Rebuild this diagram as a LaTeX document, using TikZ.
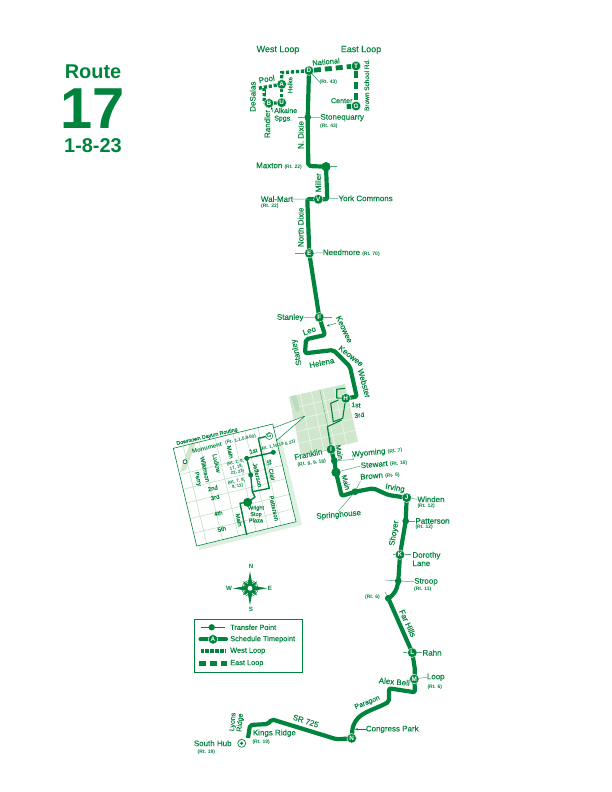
\documentclass[tikz,border=0pt]{standalone}
\usepackage{fontspec}
\setmainfont[FakeBold=0.3,BoldFont={Liberation Sans Bold},BoldFeatures={FakeBold=0}]{Liberation Sans}
\usetikzlibrary{calc,arrows.meta}
\definecolor{rgreen}{RGB}{0,132,61}
\definecolor{rlight}{RGB}{208,230,205}
\definecolor{rgrid}{RGB}{186,220,192}
\definecolor{rshadow}{RGB}{222,240,226}
\newcommand{\fsz}[1]{\fontsize{#1}{#1}\selectfont}
\tikzset{
 lab/.style={text=rgreen,inner sep=0pt,align=left,font=\fontsize{8}{8.4}\selectfont},
 rtl/.style={text=rgreen,inner sep=0pt,align=left,font=\bfseries\fontsize{5}{5.8}\selectfont},
 minilab/.style={text=rgreen,inner sep=0pt,align=center,font=\fontsize{6}{6.4}\selectfont},
 ttl/.style={text=rgreen,inner sep=0pt,font=\bfseries\fontsize{20}{20}\selectfont},
 routeline/.style={draw=rgreen,line width=4.2pt,line join=round,rounded corners=2pt},
 thinroute/.style={draw=rgreen,line width=1.1pt,line join=round},
 insetroute/.style={draw=rgreen,line width=1.4pt,line join=round},
 westloop/.style={draw=rgreen,line width=3.4pt,dash pattern=on 3.2pt off 1.8pt},
 eastloop/.style={draw=rgreen,line width=4.8pt,dash pattern=on 7pt off 4pt},
 tick/.style={draw=rgreen!70!white,line width=.5pt},
 leader/.style={draw=rgreen,line width=.45pt},
 pointer/.style={draw=rgreen,line width=.45pt,-{Stealth[length=3pt,width=2.4pt]}},
 tm/.style={circle,fill=rgreen,draw=white,line width=.4pt,text=white,inner sep=0pt,minimum size=9.6pt,font=\bfseries\fontsize{6.4}{6.4}\selectfont},
 tp/.style={circle,fill=rgreen,inner sep=0pt,minimum size=6.4pt},
 tpbig/.style={circle,fill=rgreen,inner sep=0pt,minimum size=9pt},
 gridln/.style={draw=rgrid,line width=.5pt},
}
\begin{document}
\begin{tikzpicture}[x=1bp,y=-1bp]
\fill[white] (0,0) rectangle (612,792);
\useasboundingbox (0,0) rectangle (612,792);

% Title
\node[ttl] (t1) at (93,72) {Route};
\node[ttl,font=\bfseries\fontsize{58}{58}\selectfont] (t2) at (93,109) {17};
\node[ttl] (t3) at (93,146) {1-8-23};

% Upper shaded map
\coordinate (UTL) at (289,396.7);\coordinate (UTR) at (345,384);
\coordinate (UBL) at (301,455);\coordinate (UBR) at (358,441.7);
\fill[rlight] (UTL)--(UTR)--(UBR)--(UBL)--cycle;
\foreach \f in {.2,.4,.6,.8}{
 \draw[white!75!rgrid,line width=.6pt] ($(UTL)!\f!(UBL)$)--($(UTR)!\f!(UBR)$);
 \draw[white!75!rgrid,line width=.6pt] ($(UTL)!\f!(UTR)$)--($(UBL)!\f!(UBR)$);}
\draw[rgrid!60!rgreen,line width=.5pt] ($(UTL)!.55!(UTR)$)--($(UBL)!.55!(UBR)$);
\fill[rgrid] (291,396.3)--(296,395.2)--(300,410)--(296,412)--cycle;

% Downtown inset
\coordinate (TL) at (173.3,448.3);\coordinate (TR) at (272.7,424);
\coordinate (BL) at (196.7,546);\coordinate (BR) at (296,521.7);
\fill[rshadow] ($(TL)+(2,2)$)--($(TR)+(5,0)$)--($(BR)+(6,3)$)--($(BL)+(3,4)$)--cycle;
\fill[white] (TL)--(TR)--(BR)--(BL)--cycle;
\fill[rlight] (190,443.5)--(196,442)--(186,470)--(180,472)--cycle;
\foreach \f in {.27,.42,.56,.72,.87}{\draw[gridln] ($(TL)!\f!(BL)$)--($(TR)!\f!(BR)$);}
\foreach \f in {.1,.26,.42,.6,.72,.85}{\draw[gridln] ($(TL)!\f!(TR)$)--($(BL)!\f!(BR)$);}
\fill[white] (268,428)--(305,416)--(275,441)--cycle;
\draw[draw=rgreen,line width=.6pt] (TR)--(TL)--(BL)--(BR)--(TR);
\draw[draw=rgreen,line width=.5pt,line join=round] (273.5,428)--(305,416)--(276,441);

% Inset route
\coordinate (ia) at (258.3,438.3);\coordinate (ib) at (269.3,488.3);\coordinate (ic) at (252.3,491.7);
\coordinate (ie) at (255,497);\coordinate (ig) at (240,503.3);\coordinate (ih) at (246.7,535);
\node[tp,minimum size=5pt] (ifirst) at (246.7,458.3) {};
\node[tp,minimum size=5pt] (isecond) at (273.3,452.3) {};
\node[tp,minimum size=5pt] (ithird) at (250.7,475) {};
\node[tpbig] (iplaza) at (247.7,502.3) {};
\draw[insetroute] (ia)--(ib)--(ic)--(ithird.center)--(ifirst.center)--(isecond.center);
\draw[insetroute] (ic)--(ie)--(iplaza.center)--(ig)--(ih);
\draw[insetroute] (ia)--(268,436);
\node[circle,draw=rgreen,fill=white,line width=.5pt,inner sep=0pt,minimum size=7pt,text=rgreen,font=\bfseries\fontsize{5.5}{5.5}\selectfont] (ig2) at (269.3,436) {G};
\node[circle,draw=rgreen,fill=white,line width=.8pt,inner sep=0pt,minimum size=4pt] (iring) at (185,461.7) {};

% Inset labels
\node[minilab,rotate=13,font=\fontsize{5.3}{5.3}\selectfont] (l1) at (207,436.7) {Downtown Dayton Routing};
\node[minilab,rotate=13,font=\bfseries\fontsize{6}{6}\selectfont] (l2) at (207,447.8) {Monument};
\node[rtl,rotate=13,font=\bfseries\fontsize{4.6}{4.6}\selectfont] (l3) at (240.7,439.5) {(Rt. 1,1,5,9,60)};
\node[minilab,rotate=-77] (l4) at (205,469.3) {Wilkinson};
\node[minilab,rotate=-77] (l5) at (197.7,479) {Perry};
\node[minilab,rotate=-77] (l6) at (216.7,463.3) {Ludlow};
\node[minilab,rotate=-77] (l7) at (230.2,452) {Main};
\node[rtl,rotate=13,align=center,font=\bfseries\fontsize{4.4}{4.8}\selectfont] (l8) at (236.5,467.5) {(Rt. 2, 8,\\ 17, 18,\\ 22, 23)};
\node[minilab,rotate=13] (l9) at (253.3,451) {1st};
\node[rtl,rotate=13,font=\bfseries\fontsize{4.4}{4.4}\selectfont] (l10) at (278,445.5) {(Rt. 1,16,19 \& 23)};
\node[minilab,rotate=-77] (l11) at (271,470) {St. Clair};
\node[minilab,rotate=-77] (l12) at (257.5,475) {Jefferson};
\node[minilab,rotate=13] (l13) at (212.7,488.3) {2nd};
\node[rtl,rotate=13,align=center,font=\bfseries\fontsize{4.4}{4.8}\selectfont] (l14) at (237,484) {(Rt. 7, 8,\\ 9, 13)};
\node[minilab,rotate=13] (l15) at (215,497.3) {3rd};
\node[minilab,rotate=13] (l16) at (218.3,513.3) {4th};
\node[minilab,rotate=13] (l17) at (221.7,529) {5th};
\node[minilab,rotate=-77] (l18) at (239,520) {Main};
\node[minilab,font=\fontsize{5.6}{6.4}\selectfont] (l19) at (256,514) {Wright\\Stop\\Plaza};
\node[minilab,rotate=-77] (l20) at (274,508.3) {Patterson};

% Stops
\node[tm] (d) at (309,70.7) {D};
\node[tm] (tt) at (356,66) {T};
\node[tm] (gg) at (356,106) {G};
\node[tm] (aa) at (281.7,84.3) {A};
\node[tm] (uu) at (281.7,102.7) {U};
\node[tm] (bb) at (269,103.3) {B};
\node[tp] (sq) at (307.7,117.3) {};
\node[tpbig] (mx) at (326,166.7) {};
\node[tm] (vv) at (318.3,199.3) {V};
\node[tm] (ee) at (309.3,253.3) {E};
\node[tm] (ff) at (319.3,317.3) {F};
\node[tm] (hh) at (345.7,398.3) {H};
\node[tm] (ii) at (331,449.3) {I};
\node[tp] (ss1) at (334.3,460.7) {};
\node[tpbig] (ss2) at (336,472.3) {};
\node[tp] (spr) at (355,491.7) {};
\node[tm] (jj) at (406.7,497.7) {J};
\node[tp] (pat) at (405.7,521) {};
\node[tm] (kk) at (400,554.7) {K};
\node[tp] (stp) at (398.3,581) {};
\node[tp] (fh) at (388.3,598.3) {};
\node[tm] (ll) at (412.3,652.7) {L};
\node[tm] (mm) at (414.3,679) {M};
\node[tm] (nn) at (351.7,738.3) {N};
\coordinate (kr) at (248,738);
\node[circle,draw=rgreen,fill=white,line width=.7pt,inner sep=0pt,minimum size=8pt] (sh) at (241.7,743.3) {};
\node[circle,fill=rgreen,inner sep=0pt,minimum size=3.4pt] (shc) at (241.7,743.3) {};

% Loops
\coordinate (wl1) at (281.7,72.7);\coordinate (wl2) at (258.3,88.3);\coordinate (wl3) at (264,88);\coordinate (wl4) at (264.5,103);
\draw[westloop] (d)--(wl1)--(aa);
\draw[westloop] (aa)--(uu);
\draw[westloop] (aa)--(wl2);
\draw[westloop] (wl3)--(wl4)--(bb);
\draw[westloop] (bb)--(uu);
\coordinate (el1) at (346.7,106.7);
\draw[eastloop] (d)--(tt);
\draw[eastloop] (tt)--(gg);
\draw[eastloop] (gg)--(el1);

% Main route
\path[routeline] (d.center)--(sq.center)--(308.3,166)--(mx.center)--(327.3,199.3)--(vv.center)--(307.3,199)--(ee.center)--(ff.center)--(325,335)--(306,339.3)--(305,353.3)--(333.3,350)--(350,366.7)--(356.7,396.7)--(hh.center);
\path[routeline] (ii.center)--(ss1.center)--(ss2.center)--(341.7,496)--(spr.center)--(373.3,488.3)--(388.3,495)--(jj.center)--(pat.center)--(kk.center)--(stp.center);
\path[routeline] (stp.center)..controls (397,590) and (394,595) ..(fh.center);
\path[routeline] (fh.center)--(ll.center)--(415,670)--(mm.center)--(415,692.3)--(389,688.3)--(389,701.7)..controls (372,711) and (358,712)..(352.5,728)--(nn.center)--(336.7,739.3)--(271.7,719.3)--(268,724)--(250,725)--(kr);
\draw[thinroute] (hh.center)--(336.7,398)--(336.7,389.3)--(345,388.3);
\draw[thinroute] (hh.center)--(342.7,418.3)--(333.3,421.7)--(330.7,403.3)--(338.3,400);
\draw[thinroute] (341.7,420)--(327.3,426.7)--(ii.center);

% Redraw stops over the route
\foreach \n/\txt in {d/D,tt/T,gg/G,aa/A,uu/U,bb/B,vv/V,ee/E,ff/F,hh/H,ii/I,jj/J,kk/K,ll/L,mm/M,nn/N}{
 \node[tm] at (\n.center) {\txt};}
\foreach \n in {sq,ss1,spr,pat,stp,fh}{\node[tp] at (\n.center) {};}
\foreach \n in {mx,ss2}{\node[tpbig] at (\n.center) {};}

% Top labels
\node[lab,font=\fontsize{9}{9}\selectfont] (a1) at (278,50) {West Loop};
\node[lab,font=\fontsize{9}{9}\selectfont] (a2) at (361,50) {East Loop};
\node[lab,rotate=5,font=\fontsize{7.5}{7.5}\selectfont] (a3) at (326,61.7) {National};
\node[rtl,anchor=west] (a4) at (319.5,82) {(Rt. 43)};
\draw[leader] (a4.west)--(d);
\node[lab,rotate=10] (a5) at (266.7,79) {Pool};
\node[lab,rotate=90] (a6) at (252.7,96.7) {DeSalas};
\node[lab,rotate=90] (a7) at (267.3,124) {Randler};
\node[lab,rotate=90,font=\fontsize{6.5}{6.5}\selectfont] (a8) at (290,85) {Helke};
\node[lab,font=\fontsize{7}{7.6}\selectfont] (a9) at (285.7,115) {Alkaine\\Spgs.};
\node[lab,rotate=90] (a10) at (300.7,135) {N. Dixie};
\node[lab,anchor=west] (a11) at (320.3,117.7) {Stonequarry};
\node[rtl,anchor=west] (a12) at (320,126.7) {(Rt. 43)};
\node[lab,font=\fontsize{7.2}{7.2}\selectfont] (a13) at (341.7,100.7) {Center};
\node[lab,rotate=90,font=\fontsize{6.5}{6.5}\selectfont] (a14) at (366.7,85) {Brown School Rd.};
\draw[tick] (a11.west)--(sq);
\coordinate (sqw) at (298,117.3);\draw[tick] (sqw)--(sq);
\coordinate (pa1) at (273,112);\coordinate (pa2) at (271,107);
\coordinate (pa3) at (265,90);\coordinate (pa4) at (265,97);
\draw[pointer] (pa1)--(pa2);
\draw[pointer] (pa3)--(pa4);

% Upper route labels
\node[lab,anchor=west] (b1) at (256,166) {Maxton \textbf{\fsz{5}(Rt. 22)}};
\coordinate (mxe) at (337,166.7);\draw[tick] (mx)--(mxe);
\node[lab,rotate=90] (b2) at (318.3,182.7) {Miller};
\node[lab,anchor=west] (b3) at (338.3,198.3) {York Commons};
\node[lab,anchor=west] (b4) at (260.7,199) {Wal-Mart};
\node[rtl,anchor=west] (b5) at (261,206.7) {(Rt. 22)};
\node[lab,rotate=90] (b6) at (300.7,227.3) {North Dixie};
\node[lab,anchor=west] (b7) at (322.7,252.7) {Needmore \textbf{\fsz{5}(Rt. 70)}};
\draw[tick] (b3.west)--(vv);\draw[tick] (b4.east)--(vv);
\draw[tick] (b7.west)--(ee);
\coordinate (eew) at (295,253.3);\draw[tick] (eew)--(ee);
\node[lab,anchor=west] (b8) at (276.7,317.7) {Stanley};
\draw[tick] (b8.east)--(ff);
\coordinate (ffe) at (332,317.3);\draw[tick] (ff)--(ffe);
\node[lab,rotate=-65] (b9) at (344.3,329.3) {Keowee};
\coordinate (kwa) at (336,323.3);\coordinate (kwb) at (326.7,326);\draw[pointer] (kwa)--(kwb);
\node[lab,rotate=20] (b10) at (309.3,330.7) {Leo};
\node[lab,rotate=103] (b11) at (296.7,352.3) {Stanley};
\node[lab,rotate=12] (b12) at (321.7,362.7) {Helena};
\node[lab,rotate=-38] (b13) at (351,356) {Keowee};
\node[lab,rotate=-75] (b14) at (364.3,383.3) {Webster};
\node[lab,rotate=-5,font=\fontsize{6.8}{6.8}\selectfont] (b15) at (356,405) {1st};
\node[lab,rotate=8,font=\fontsize{6.8}{6.8}\selectfont] (b16) at (359.3,415) {3rd};

% Middle labels
\node[lab,rotate=12] (c1) at (308.3,454.3) {Franklin};
\node[rtl,rotate=8] (c2) at (311.7,463.3) {(Rt. 8, 9, 18)};
\node[lab,rotate=-80,font=\fontsize{7}{7}\selectfont] (c3) at (339.5,452.3) {Main};
\node[lab,rotate=6] (c4) at (377.3,452.3) {Wyoming \textbf{\fsz{5}(Rt. 7)}};
\node[lab,rotate=5] (c5) at (384,464) {Stewart \textbf{\fsz{5}(Rt. 16)}};
\node[lab,rotate=5] (c6) at (380,475.7) {Brown \textbf{\fsz{5}(Rt. 6)}};
\node[lab,rotate=-75,font=\fontsize{7}{7}\selectfont] (c7) at (346,482.3) {Main};
\node[lab,rotate=-10] (c8) at (395,488.3) {Irving};
\node[lab,rotate=5] (c9) at (338.7,515) {Springhouse};
\node[lab,anchor=west] (c10) at (417.3,499.3) {Winden};
\node[rtl,anchor=west] (c11) at (417.3,506.7) {(Rt. 12)};
\node[lab,anchor=west] (c12) at (415.3,521) {Patterson};
\node[rtl,anchor=west] (c13) at (415.3,527.3) {(Rt. 12)};
\draw[tick] (c1.east)--(ii);
\coordinate (wy) at (353.5,459.5);\draw[tick] (ss1)--(wy)--(c4.west);
\draw[tick] (ss2)--(c5.west);
\draw[tick] (spr)--(c6.south west);
\draw[tick] (spr)--(c9.north);
\draw[tick] (c10.west)--(jj);
\draw[tick] (c12.west)--(pat);

\node[lab,rotate=80] (d1) at (394.3,533.3) {Shoyer};
\node[lab,anchor=west] (d2) at (412.3,559) {Dorothy\\Lane};
\coordinate (kkw) at (393,554.7);\coordinate (kke) at (411,554.7);
\draw[tick] (kkw)--(kk);\draw[tick] (kk)--(kke);
\node[lab,anchor=west] (d3) at (414,581.7) {Stroop};
\node[rtl,anchor=west] (d4) at (414,589.7) {(Rt. 11)};
\coordinate (stw) at (385,580);\draw[tick] (stw)--(stp);\draw[tick] (stp)--(d3.west);
\node[rtl,anchor=west] (d5) at (365,597) {(Rt. 6)};
\coordinate (fhn) at (385,592);\draw[tick] (fhn)--(fh);
\node[lab,rotate=-65] (d6) at (407.7,623.3) {Far Hills};
\node[lab,anchor=west] (d7) at (422.3,652.7) {Rahn};
\coordinate (llw) at (403,652.7);\draw[tick] (llw)--(ll);\draw[tick] (ll)--(d7.west);
\node[lab,anchor=west] (d8) at (426.7,677.3) {Loop};
\node[rtl,anchor=west] (d9) at (427.3,687.3) {(Rt. 6)};
\draw[tick] (mm)--(d8.west);
\node[lab,rotate=-5] (d10) at (394.3,681.7) {Alex Bell};
\node[lab,rotate=22,font=\fontsize{7}{7}\selectfont] (d11) at (367.3,702.7) {Paragon};
\node[lab,anchor=west] (d12) at (365.7,729.3) {Congress Park};
\coordinate (cpa) at (355,729.3);
\draw[pointer] (d12.west)--(cpa);
\node[lab,rotate=-18] (d13) at (305.7,721) {SR 725};
\node[lab,anchor=west] (d14) at (252.7,733.3) {Kings Ridge};
\node[rtl,anchor=west] (d15) at (252.3,742.7) {(Rt. 19)};
\node[lab,rotate=85,align=center,font=\fontsize{7}{7.4}\selectfont] (d16) at (236.7,722.3) {Lyons\\Ridge};
\node[lab] (d17) at (212.7,743.3) {South Hub};
\node[rtl,anchor=west] (d18) at (197.5,752.7) {(Rt. 19)};

% Compass
\coordinate (cp) at (250,588.3);
\draw[rgreen,line width=.5pt] (cp) circle (6.5);
\draw[rgreen,line width=.4pt] (cp) circle (8);
\foreach \a in {45,135,225,315}{
 \fill[rgreen,rotate around={\a:(cp)}] (cp)--++(2.2,-2.2)--++(7.8,2.2)--++(-7.8,2.2)--cycle;}
\foreach \a in {0,90,180,270}{
 \fill[rgreen,rotate around={\a:(cp)}] (cp)--++(2.6,-2.6)--++(14.5,2.6)--++(-14.5,2.6)--cycle;}
\fill[white] (cp) circle (2.4);
\node[minilab,font=\bfseries\fontsize{6.2}{6.2}\selectfont] (n1) at (251,566.5) {N};
\node[minilab,font=\bfseries\fontsize{6.2}{6.2}\selectfont] (n2) at (229,588.3) {W};
\node[minilab,font=\bfseries\fontsize{6.2}{6.2}\selectfont] (n3) at (270,588.3) {E};
\node[minilab,font=\bfseries\fontsize{6.2}{6.2}\selectfont] (n4) at (251,609.3) {S};

% Legend
\node[draw=rgreen,line width=.7pt,fill=white,minimum width=108.4bp,minimum height=53.4bp,inner sep=0pt] (leg) at (248.5,646) {};
\coordinate (le1) at (200.7,627.3);\coordinate (le2) at (225,627.3);
\draw[rgreen,line width=.6pt] (le1)--(le2);
\node[tp] (ls1) at (211.7,627.3) {};
\coordinate (le3) at (200.5,639.3);\coordinate (le4) at (226,639.3);
\draw[rgreen,line width=4.2pt,line cap=round] (le3)--(le4);
\node[tm] (ls2) at (213,639.3) {A};
\coordinate (le5) at (200.5,651);\coordinate (le6) at (226,651);
\draw[westloop] (le5)--(le6);
\coordinate (le7) at (199,663.3);\coordinate (le8) at (227,663.3);
\draw[eastloop] (le7)--(le8);
\foreach \nm/\y/\tx in {q1/627.3/Transfer Point,q2/639.3/Schedule Timepoint,q3/651/West Loop,q4/663.3/East Loop}{
 \node[lab,anchor=west,font=\fontsize{7.4}{7.4}\selectfont] (\nm) at (230,\y) {\tx};}
\end{tikzpicture}
\end{document}
